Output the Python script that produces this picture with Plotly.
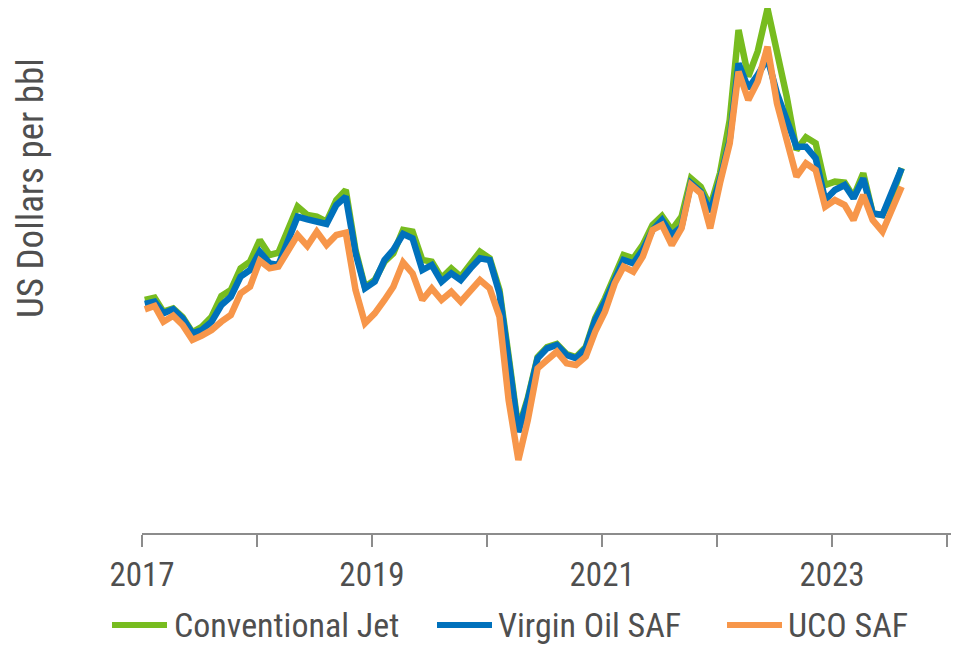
import plotly.graph_objects as go
import pandas as pd

months = pd.date_range("2017-01-01", periods=80, freq="MS") + pd.Timedelta(days=9)

conventional_jet = [
    69.9, 70.6, 66.4, 67.4, 64.8, 60.2, 61.9, 64.9, 71.1, 72.9, 79.4, 81.4,
    87.9, 83.4, 84.1, 90.9, 97.9, 95.4, 94.9, 93.4, 99.9, 102.9, 84.9, 73.8,
    75.9, 81.4, 83.9, 90.9, 90.4, 81.9, 81.4, 76.5, 79.4, 76.9, 80.9, 84.4,
    82.4, 72.9, 53.1, 31.2, 40.5, 52.8, 55.8, 56.7, 53.7, 52.8, 55.8, 64.5,
    70.4, 77.9, 83.4, 82.4, 86.4, 92.4, 95.1, 90.9, 94.9, 106.4, 103.9, 97.9,
    107.9, 123.9, 150.9, 136.9, 144.5, 157.3, 144.9, 130.9, 114.9, 118.7, 116.9, 104.4,
    105.4, 105.1, 100.9, 107.9, 95.9, 95.4, 100.9, 109.5,
]

virgin_oil_saf = [
    68.7, 69.4, 65.9, 67.1, 64.4, 59.9, 60.9, 63.4, 68.4, 70.9, 76.9, 78.9,
    84.4, 80.9, 80.4, 87.4, 94.9, 94.1, 93.4, 92.7, 98.4, 100.9, 84.0, 73.4,
    75.4, 81.9, 84.9, 89.7, 88.4, 78.9, 80.4, 75.4, 77.9, 75.9, 79.4, 82.4,
    81.9, 71.9, 51.9, 30.3, 39.9, 52.4, 55.4, 56.4, 53.4, 52.4, 55.4, 63.9,
    69.4, 75.9, 81.9, 80.9, 84.9, 90.9, 93.9, 89.4, 91.9, 104.9, 102.4, 96.4,
    105.9, 117.9, 140.9, 133.4, 137.4, 142.4, 131.9, 123.9, 115.9, 115.9, 112.4, 99.9,
    102.9, 104.4, 100.4, 106.4, 95.9, 95.4, 101.9, 109.4,
]

uco_saf = [
    67.1, 68.1, 63.4, 65.2, 62.4, 57.9, 59.2, 60.9, 63.4, 65.4, 71.9, 73.9,
    81.7, 79.4, 79.9, 84.4, 89.4, 86.1, 90.4, 86.4, 89.4, 90.1, 72.9, 62.9,
    65.9, 69.9, 73.9, 81.2, 77.9, 69.9, 73.4, 69.9, 72.4, 69.4, 72.9, 75.9,
    73.4, 64.9, 39.9, 21.9, 33.9, 49.4, 51.9, 54.4, 50.9, 50.4, 52.9, 60.4,
    66.4, 74.9, 79.9, 78.4, 82.9, 90.9, 92.4, 86.4, 91.4, 104.4, 101.9, 91.4,
    104.9, 116.9, 138.4, 129.9, 135.4, 145.9, 128.9, 117.9, 106.9, 110.9, 108.9, 97.9,
    99.9, 98.4, 93.9, 101.4, 93.9, 90.4, 96.9, 103.9,
]

series_names = ["Conventional Jet", "Virgin Oil SAF", "UCO SAF"]
series_colors = ["#77BC1F", "#0071BC", "#F7964A"]

tick_years = ["2017-01-01", "2018-01-01", "2019-01-01", "2020-01-01",
              "2021-01-01", "2022-01-01", "2023-01-01", "2024-01-01"]
tick_text = ["2017", "", "2019", "", "2021", "", "2023", ""]

FONT = "Liberation Sans Narrow, Arial Narrow, Roboto Condensed, sans-serif"
TXT = "#4F4F4F"

fig = go.Figure()
for name, vals, col in zip(series_names, [conventional_jet, virgin_oil_saf, uco_saf], series_colors):
    fig.add_trace(go.Scatter(x=months, y=vals, mode="lines", name=name,
                             line=dict(color=col, width=6.5), showlegend=False))

# page is offset by the 8px body margin; plot area spans page x 142..959, y 8..533
W, PH, L, B = 817, 525, 142, 533
def px(x):
    return (x - L) / W
def py(y):
    return (B - y) / PH

leg_y = 625
leg_items = [(112, 167, 172), (437, 492, 496), (727, 782, 786)]
for (x0, x1, tx), name, col in zip(leg_items, series_names, series_colors):
    fig.add_shape(type="line", xref="paper", yref="paper",
                  x0=px(x0), x1=px(x1), y0=py(leg_y), y1=py(leg_y),
                  line=dict(color=col, width=6))
    fig.add_annotation(xref="paper", yref="paper", x=px(tx), y=py(leg_y),
                       text=name, showarrow=False, xanchor="left", yanchor="middle",
                       font=dict(family=FONT, size=34, color=TXT))

fig.add_annotation(xref="paper", yref="paper", x=px(30), y=py(188),
                   text="US Dollars per bbl", textangle=-90, showarrow=False,
                   xanchor="center", yanchor="middle",
                   font=dict(family=FONT, size=37, color=TXT))

fig.update_layout(
    width=951, height=639,
    margin=dict(l=134, r=0, t=0, b=114),
    paper_bgcolor="white", plot_bgcolor="white",
    font=dict(family=FONT, color=TXT),
)
fig.update_xaxes(range=["2017-01-01", "2024-02-08"], tickvals=tick_years, ticktext=tick_text,
                 showline=True, linecolor="#8C8C8C", linewidth=1.5,
                 ticks="outside", ticklen=12, tickcolor="#8C8C8C", tickwidth=1.5,
                 showgrid=False, zeroline=False,
                 tickfont=dict(family=FONT, size=33, color=TXT))
fig.update_yaxes(range=[0, 157.5], visible=False, showgrid=False)

fig.write_html("out.html")
